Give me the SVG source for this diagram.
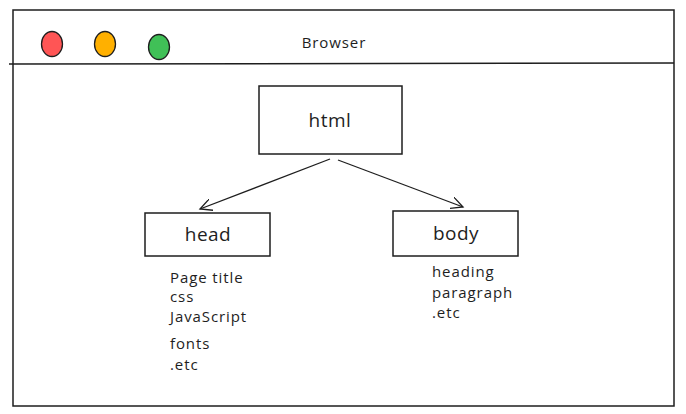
<svg xmlns="http://www.w3.org/2000/svg" width="686" height="414" viewBox="0 0 686 414">
<style>
.box{fill:#fff;stroke:#1e1e1e;stroke-width:1.5}
.lbl{font-family:"Open Sans","Noto Sans",sans-serif;font-size:19px;fill:#1e1e1e;text-anchor:middle;letter-spacing:0.5px}
.txt{font-family:"Open Sans","Noto Sans",sans-serif;font-size:15px;fill:#1e1e1e;letter-spacing:0.9px}
.edge{fill:none;stroke:#1e1e1e;stroke-width:1.3}
.dot{stroke:#1e1e1e;stroke-width:1.3}
</style>
<defs>
<marker id="arr" markerWidth="14" markerHeight="12" refX="12" refY="6" orient="auto" markerUnits="userSpaceOnUse">
<path d="M0,0 L12,6 L0,12" fill="none" stroke="#1e1e1e" stroke-width="1.3"/>
</marker>
</defs>
<rect width="686" height="414" fill="#fff"/>
<g id="browser">
<rect class="box" x="13" y="10" width="661" height="396"/>
<line x1="9" y1="64" x2="674" y2="63" stroke="#1e1e1e" stroke-width="1.5"/>
<ellipse class="dot" cx="52" cy="44" rx="10.5" ry="12.5" fill="#ff5555"/>
<ellipse class="dot" cx="105" cy="44" rx="10.5" ry="12.5" fill="#ffb000"/>
<ellipse class="dot" cx="159" cy="47" rx="10.5" ry="12.5" fill="#40c057"/>
<text class="txt" x="334" y="48" text-anchor="middle">Browser</text>
</g>
<g id="html">
<rect class="box" x="259" y="86" width="143" height="68"/>
<text class="lbl" x="330" y="127">html</text>
</g>
<g id="head">
<rect class="box" x="145" y="213" width="125" height="43"/>
<text class="lbl" x="208" y="241">head</text>
<text class="txt" x="170" y="283">Page title</text>
<text class="txt" x="170" y="302">css</text>
<text class="txt" x="170" y="322">JavaScript</text>
<text class="txt" x="170" y="349">fonts</text>
<text class="txt" x="170" y="370">.etc</text>
</g>
<g id="body">
<rect class="box" x="393" y="211" width="125" height="45"/>
<text class="lbl" x="456" y="240">body</text>
<text class="txt" x="432" y="277">heading</text>
<text class="txt" x="432" y="298">paragraph</text>
<text class="txt" x="432" y="318">.etc</text>
</g>
<g id="connectors">
<path class="edge" d="M330,159 L200,209" marker-end="url(#arr)"/>
<path class="edge" d="M338,160 L463,207" marker-end="url(#arr)"/>
</g>
</svg>
